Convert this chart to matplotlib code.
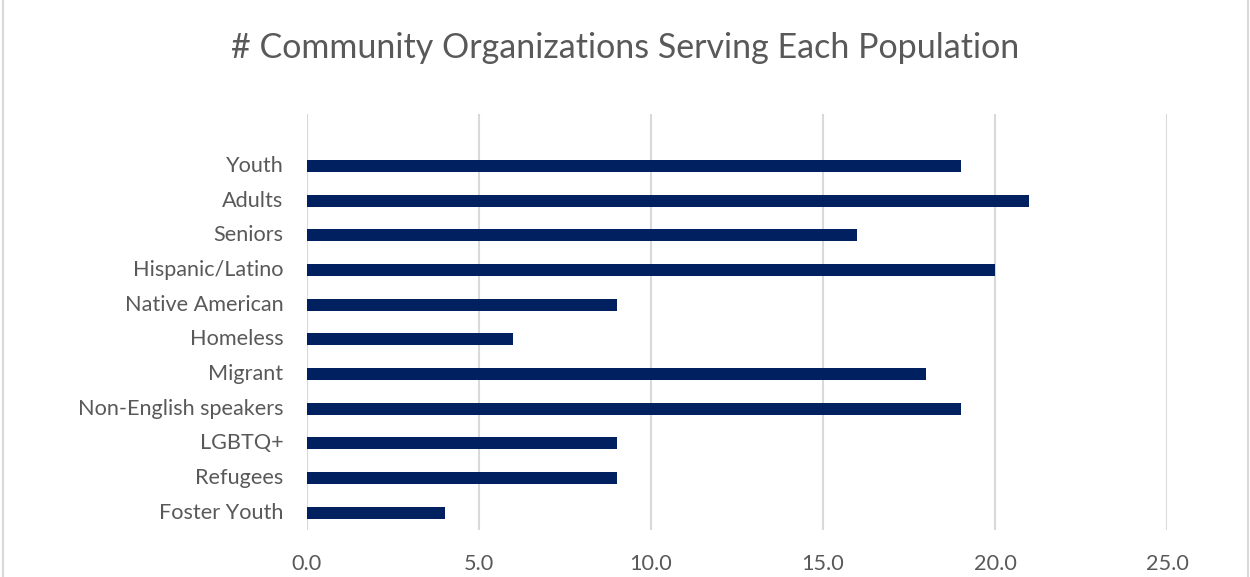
import matplotlib.pyplot as plt
import numpy as np

plt.rcParams['font.family'] = ['Lato', 'DejaVu Sans']

populations = ["Youth", "Adults", "Seniors", "Hispanic/Latino", "Native American",
               "Homeless", "Migrant", "Non-English speakers", "LGBTQ+",
               "Refugees", "Foster Youth"]
counts = [19, 21, 16, 20, 9, 6, 18, 19, 9, 9, 4]
xticks = [0, 5, 10, 15, 20, 25]

fig = plt.figure(figsize=(12.5, 5.77), dpi=100)
ax = fig.add_axes([307 / 1250, 47 / 577, 860 / 1250, 416 / 577])

# first category at the top, one blank slot above it
ypos = np.arange(len(populations))[::-1]
ax.barh(ypos, counts, height=0.35, color='#002060', zorder=3)

ax.set_xlim(0, 25)
ax.set_ylim(-0.5, len(populations) + 0.5)
ax.set_xticks(xticks)
ax.set_xticklabels([f"{t:.1f}" for t in xticks])
ax.set_yticks(ypos)
ax.set_yticklabels(populations, va='center')
ax.tick_params(axis='both', length=0, labelsize=15.6, colors='#595959')
ax.tick_params(axis='x', pad=17)
ax.tick_params(axis='y', pad=17)

ax.grid(axis='x', color='#d9d9d9', linewidth=1.5, zorder=0)
for s in ax.spines.values():
    s.set_visible(False)
ax.axvline(0, color='#d9d9d9', linewidth=1.5, zorder=1)

fig.text(0.5, 1 - 48 / 577, "# Community Organizations Serving Each Population",
         ha='center', va='center', fontsize=24.5, color='#595959')

# outer chart border
fig.patches.append(plt.Rectangle((0.002, -0.01), 0.996, 1.02, transform=fig.transFigure,
                                 fill=False, edgecolor='#d9d9d9', linewidth=1.5))

fig.savefig('out.png', dpi=100)
